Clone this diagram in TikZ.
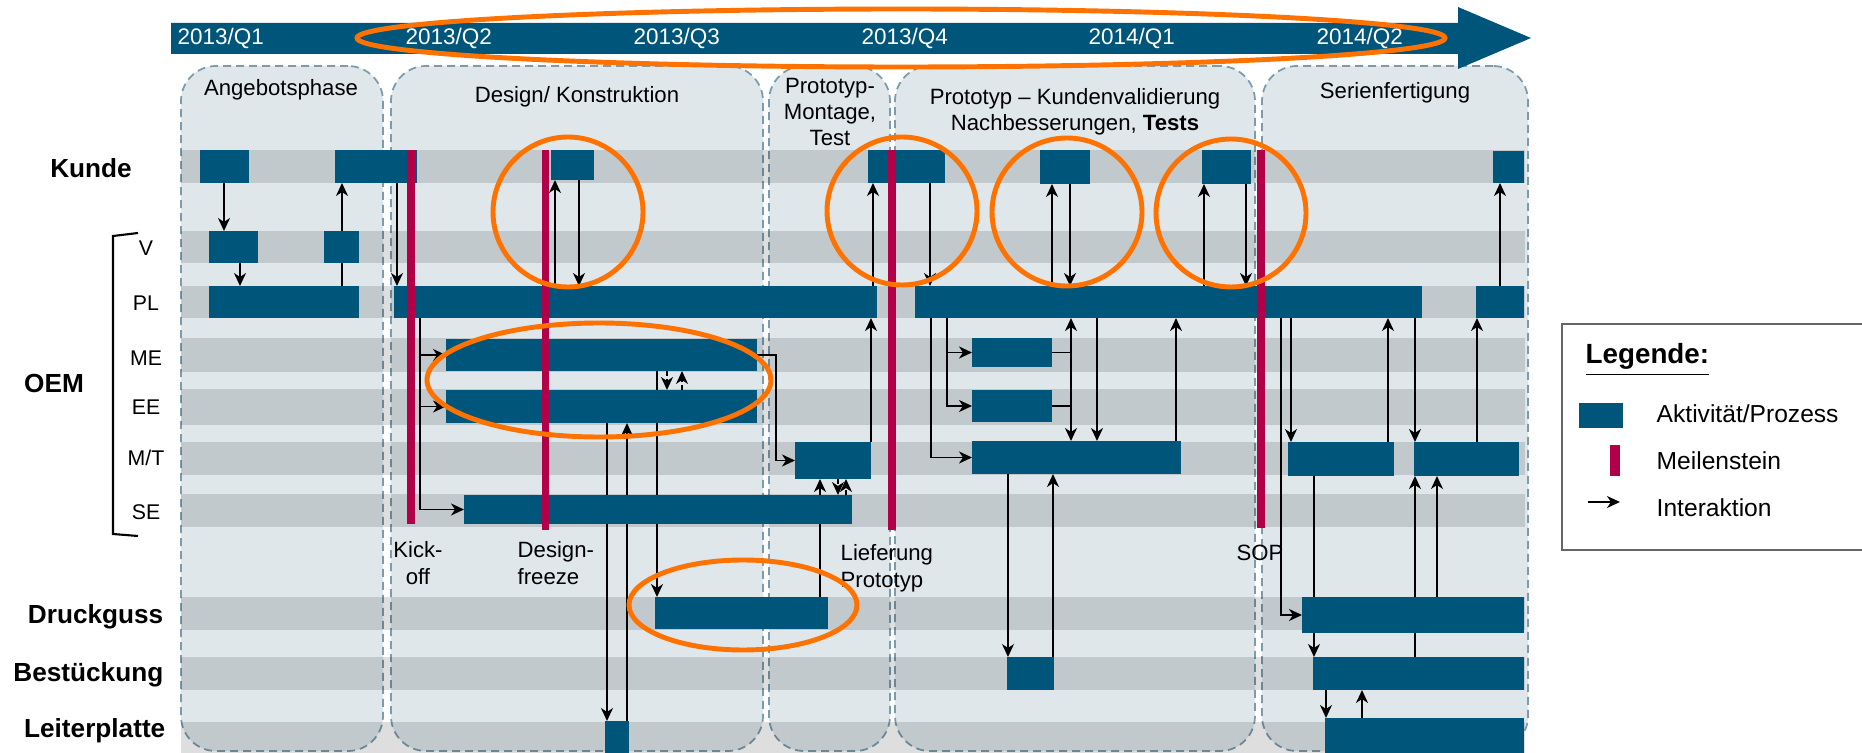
\documentclass[tikz,border=0pt]{standalone}
\usepackage{fontspec}
\setmainfont{Liberation Sans}
\usetikzlibrary{arrows.meta,positioning,fit,calc,backgrounds}
\definecolor{ProcBlue}{HTML}{00557A}
\definecolor{MileRed}{HTML}{B10047}
\definecolor{PhaseFill}{HTML}{DFE7EB}
\definecolor{PhaseLine}{HTML}{7C9CAD}
\definecolor{RingOrange}{HTML}{FF7200}
\definecolor{LegLine}{HTML}{666666}

\begin{document}
\begin{tikzpicture}[x=0.1mm,y=-0.1mm,
  phase/.style={draw=PhaseLine,dash pattern=on 0.8mm off 0.5mm,line width=0.5pt,fill=PhaseFill,rounded corners=3.5mm,inner sep=0pt},
  band/.style={fill=black,fill opacity=0.13},
  act/.style={fill=ProcBlue,inner sep=0pt,outer sep=0pt},
  mile/.style={fill=MileRed,inner sep=0pt,outer sep=0pt},
  arrow/.style={-{Stealth[length=1.3mm,width=1.2mm,inset=0.4mm]},line width=0.5pt},
  dasharrow/.style={arrow,dash pattern=on 0.5mm off 0.3mm},
  ring/.style={draw=RingOrange,line width=1.4pt},
  quarter/.style={text=white,anchor=west,inner sep=0pt,font=\fontsize{6.4}{7.6}\selectfont},
  phasetxt/.style={align=center,inner sep=0pt,font=\fontsize{6.3}{7.4}\selectfont},
  party/.style={inner sep=0pt,font=\bfseries\fontsize{7.45}{9}\selectfont},
  subunit/.style={inner sep=0pt,font=\fontsize{6.05}{7}\selectfont},
  miletxt/.style={inner sep=0pt,font=\fontsize{6.3}{7.7}\selectfont},
  legtxt/.style={anchor=west,inner sep=0pt,font=\fontsize{7}{8.4}\selectfont}
]
\useasboundingbox (0,0) rectangle (1862,753);

\fill[ProcBlue] (171,23) -- (1458,23) -- (1458,7) -- (1531,38) -- (1458,69) -- (1458,54) -- (171,54) -- cycle;
\node[quarter] (q1) at (177,38) {2013/Q1};
\node[quarter] (q2) at (405,38) {2013/Q2};
\node[quarter] (q3) at (633,38) {2013/Q3};
\node[quarter] (q4) at (861,38) {2013/Q4};
\node[quarter] (q5) at (1088,38) {2014/Q1};
\node[quarter] (q6) at (1316,38) {2014/Q2};

\begin{scope}[on background layer]
\node[phase,fit={(181,66)(383,751)}] (angebot) {};
\node[phase,fit={(391,66)(763,751)}] (design) {};
\node[phase,fit={(769,66)(890,751)}] (montage) {};
\node[phase,fit={(895,66)(1255,751)}] (validierung) {};
\node[phase,fit={(1262,66)(1528,751)}] (serie) {};
\fill[band] (181,150) rectangle (1525,183);
\fill[band] (181,231) rectangle (1525,263);
\fill[band] (181,286) rectangle (1525,318);
\fill[band] (181,338) rectangle (1525,372);
\fill[band] (181,389) rectangle (1525,425);
\fill[band] (181,442) rectangle (1525,475);
\fill[band] (181,494) rectangle (1525,527);
\fill[band] (181,597) rectangle (1525,630);
\fill[band] (181,657) rectangle (1525,690);
\fill[band] (181,722) rectangle (1525,753);
\end{scope}

\node[phasetxt] (angebottxt) at (281,90) {Angebotsphase};
\node[phasetxt] (designtxt) at (577,97) {Design/ Konstruktion};
\node[phasetxt] (montagetxt) at (830,112) {Prototyp-\\Montage,\\Test};
\node[phasetxt] (validtxt) at (1075,112) {Prototyp -- Kundenvalidierung\\Nachbesserungen, \textbf{Tests}};
\node[phasetxt] (serietxt) at (1395,93) {Serienfertigung};

\node[party] (kunde) at (91,168) {Kunde};
\node[party] (oem) at (54,383) {OEM};
\node[party,anchor=east] (druckguss) at (164,617) {Druckguss};
\node[party,anchor=east] (bestueckung) at (164,675) {Bestückung};
\node[party,anchor=east] (leiterplatte) at (166,731) {Leiterplatte};
\node[subunit] (v) at (146,248) {V};
\node[subunit] (pl) at (146,303) {PL};
\node[subunit] (me) at (146,358) {ME};
\node[subunit] (ee) at (146,407) {EE};
\node[subunit] (mt) at (146,458) {M/T};
\node[subunit] (se) at (146,512) {SE};
\draw[line width=0.6pt] (138,233) -- (113,236) -- (113,534) -- (138,536);

\node[act,fit={(200,150)(249,183)}] (k1) {};
\node[act,fit={(335,150)(417,183)}] (k2) {};
\node[act,fit={(551,150)(594,180)}] (k3) {};
\node[act,fit={(868,150)(945,183)}] (k4) {};
\node[act,fit={(1040,150)(1090,184)}] (k5) {};
\node[act,fit={(1202,150)(1251,184)}] (k6) {};
\node[act,fit={(1493,151)(1524,183)}] (k7) {};
\node[act,fit={(209,231)(258,263)}] (v1) {};
\node[act,fit={(324,231)(359,263)}] (v2) {};
\node[act,fit={(209,286)(359,318)}] (pl1) {};
\node[act,fit={(394,286)(877,318)}] (pl2) {};
\node[act,fit={(915,286)(1422,318)}] (pl3) {};
\node[act,fit={(1476,286)(1524,318)}] (pl4) {};
\node[act,fit={(446,339)(757,371)}] (me1) {};
\node[act,fit={(972,338)(1052,367)}] (me2) {};
\node[act,fit={(446,390)(757,423)}] (ee1) {};
\node[act,fit={(972,390)(1052,422)}] (ee2) {};
\node[act,fit={(795,442)(871,479)}] (mt1) {};
\node[act,fit={(972,441)(1181,474)}] (mt2) {};
\node[act,fit={(1288,442)(1394,476)}] (mt3) {};
\node[act,fit={(1414,442)(1519,476)}] (mt4) {};
\node[act,fit={(464,495)(852,524)}] (se1) {};
\node[act,fit={(655,597)(828,629)}] (dg1) {};
\node[act,fit={(1302,597)(1524,633)}] (dg2) {};
\node[act,fit={(1007,657)(1054,690)}] (be1) {};
\node[act,fit={(1313,657)(1524,690)}] (be2) {};
\node[act,fit={(605,721)(629,753)}] (lp1) {};
\node[act,fit={(1325,718)(1524,753)}] (lp2) {};

\node[mile,fit={(407,150)(415,524)}] (kickoff) {};
\node[mile,fit={(542,150)(549,530)}] (freeze) {};
\node[mile,fit={(888,150)(896,530)}] (liefer) {};
\node[mile,fit={(1257,150)(1265,528)}] (sop) {};

\begin{scope}[on background layer,line width=0.5pt]
\draw[arrow] (k1.south -| 224,0) -- (v1.north -| 224,0);
\draw[arrow] (v1.south -| 240,0) -- (pl1.north -| 240,0);
\draw[arrow] (pl1.north -| 342,0) -- (k2.south -| 342,0);
\draw[arrow] (k2.south -| 397,0) -- (pl2.north -| 397,0);
\draw[arrow] (pl2.north -| 555,0) -- (k3.south -| 555,0);
\draw[arrow] (k3.south -| 579,0) -- (pl2.north -| 579,0);
\draw[arrow] (pl2.south -| 420,0) |- (me1.west);
\draw[arrow] (pl2.south -| 420,0) |- (ee1.west);
\draw[arrow] (pl2.south -| 420,0) |- (se1.west);
\draw[arrow] (me1.east) -- (me1.east -| 776,0) |- (mt1.west);
\draw[dasharrow] (me1.south -| 667,0) -- (ee1.north -| 667,0);
\draw[dasharrow] (ee1.north -| 682,0) -- (me1.south -| 682,0);
\draw[arrow] (ee1.south -| 607,0) -- (lp1.north -| 607,0);
\draw[arrow] (lp1.north -| 627,0) -- (ee1.south -| 627,0);
\draw[arrow] (me1.south -| 657,0) -- (dg1.north -| 657,0);
\draw[arrow] (dg1.north -| 820,0) -- (mt1.south -| 820,0);
\draw[dasharrow] (mt1.south -| 838,0) -- (se1.north -| 838,0);
\draw[dasharrow] (se1.north -| 846,0) -- (mt1.south -| 846,0);
\draw[arrow] (mt1.north -| 871,0) -- (pl2.south -| 871,0);
\draw[arrow] (pl2.north -| 873,0) -- (k4.south -| 873,0);
\draw[arrow] (k4.south -| 930,0) -- (pl3.north -| 930,0);
\draw[arrow] (pl3.south -| 931,0) |- (mt2.west);
\draw[arrow] (pl3.south -| 947,0) |- (me2.west);
\draw[arrow] (pl3.south -| 947,0) |- (ee2.west);
\draw (me2.east) -- (me2.east -| 1071,0);
\draw (ee2.east) -- (ee2.east -| 1071,0);
\draw[arrow] (me2.east -| 1071,0) -- (pl3.south -| 1071,0);
\draw[arrow] (me2.east -| 1071,0) -- (mt2.north -| 1071,0);
\draw[arrow] (pl3.south -| 1097,0) -- (mt2.north -| 1097,0);
\draw[arrow] (mt2.north -| 1176,0) -- (pl3.south -| 1176,0);
\draw[arrow] (pl3.north -| 1052,0) -- (k5.south -| 1052,0);
\draw[arrow] (k5.south -| 1070,0) -- (pl3.north -| 1070,0);
\draw[arrow] (mt2.south -| 1008,0) -- (be1.north -| 1008,0);
\draw[arrow] (be1.north -| 1053,0) -- (mt2.south -| 1053,0);
\draw[arrow] (pl3.north -| 1204,0) -- (k6.south -| 1204,0);
\draw[arrow] (k6.south -| 1246,0) -- (pl3.north -| 1246,0);
\draw[arrow] (pl4.north -| 1500,0) -- (k7.south -| 1500,0);
\draw[arrow] (pl3.south -| 1291,0) -- (mt3.north -| 1291,0);
\draw[arrow] (pl3.south -| 1281,0) |- (dg2.west);
\draw[arrow] (mt3.north -| 1388,0) -- (pl3.south -| 1388,0);
\draw[arrow] (pl3.south -| 1415,0) -- (mt4.north -| 1415,0);
\draw[arrow] (mt4.north -| 1477,0) -- (pl4.south -| 1477,0);
\draw[arrow] (mt3.south -| 1314,0) -- (be2.north -| 1314,0);
\draw[arrow] (be2.north -| 1415,0) -- (mt4.south -| 1415,0);
\draw[arrow] (dg2.north -| 1437,0) -- (mt4.south -| 1437,0);
\draw[arrow] (be2.south -| 1326,0) -- (lp2.north -| 1326,0);
\draw[arrow] (lp2.north -| 1362,0) -- (be2.south -| 1362,0);
\end{scope}

\node[miletxt,align=center] (kickofftxt) at (418,563) {Kick-\\off};
\node[miletxt,align=left,anchor=west] (freezetxt) at (517,563) {Design-\\freeze};
\node[miletxt,align=left,anchor=west] (liefertxt) at (840,568) {Lieferung\\Prototyp};
\node[miletxt,anchor=west] (soptxt) at (1236,553) {SOP};

\node[draw=LegLine,line width=0.6pt,inner sep=0pt,fit={(1562,324)(1870,550)}] (legende) {};
\node[anchor=west,inner sep=0pt,font=\bfseries\fontsize{7.9}{9.5}\selectfont] (legtitle) at (1585,360) {\underline{Legende:}};
\node[act,fit={(1579,403)(1623,428)}] (legact) {};
\node[legtxt] (legacttxt) at (1656,414) {Aktivität/Prozess};
\node[mile,fit={(1610,445)(1620,476)}] (legmile) {};
\node[legtxt] (legmiletxt) at (1656,461) {Meilenstein};
\coordinate (legarrA) at (1588,502);
\coordinate (legarrB) at (1620,502);
\draw[arrow] (legarrA) -- (legarrB);
\node[legtxt] (legarrtxt) at (1656,508) {Interaktion};

\draw[ring] (901,38) ellipse [x radius=54.4mm,y radius=2.9mm];
\draw[ring] (568,212) ellipse [x radius=7.5mm,y radius=7.5mm];
\draw[ring] (902,211) ellipse [x radius=7.5mm,y radius=7.4mm];
\draw[ring] (1067,212) ellipse [x radius=7.5mm,y radius=7.4mm];
\draw[ring] (1231,213) ellipse [x radius=7.5mm,y radius=7.4mm];
\draw[ring] (599,380) ellipse [x radius=17.2mm,y radius=5.7mm];
\draw[ring] (743,605) ellipse [x radius=11.4mm,y radius=4.5mm];
\end{tikzpicture}
\end{document}
